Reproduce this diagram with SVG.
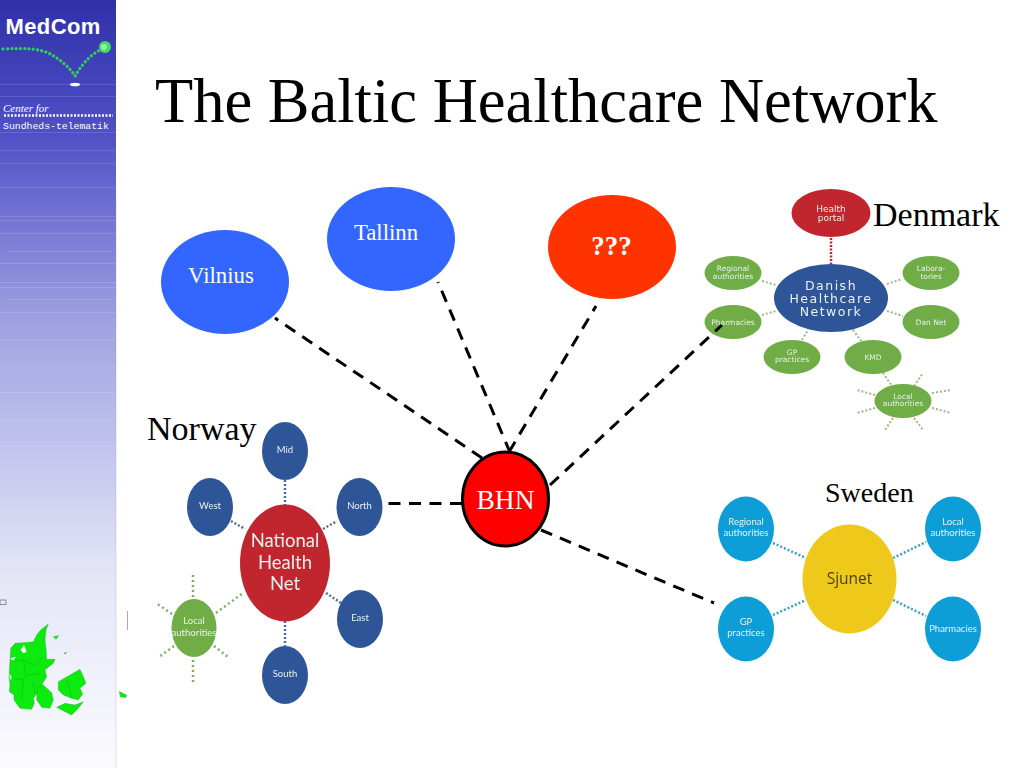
<svg xmlns="http://www.w3.org/2000/svg" width="1024" height="768" viewBox="0 0 1024 768">
<defs>
<linearGradient id="side" x1="0" y1="0" x2="0" y2="1">
<stop offset="0" stop-color="#3030a8"/><stop offset="0.17" stop-color="#4f4fc6"/><stop offset="0.43" stop-color="#a2a4e2"/><stop offset="0.75" stop-color="#e4e6f7"/><stop offset="1" stop-color="#fbfbfe"/>
</linearGradient>
<filter id="soft" x="-5%" y="-5%" width="110%" height="110%"><feGaussianBlur stdDeviation="0.35"/></filter>
</defs>
<style>
.serif{font-family:"Liberation Serif","Times New Roman",serif}
.lab{font-family:Lato,"Open Sans",sans-serif;fill:#e8f0f0;text-anchor:middle;font-size:9.500px}
.dl{font-family:"DejaVu Sans",sans-serif;fill:#e8f0e8;text-anchor:middle;font-size:7.500px}
.big{font-family:"Liberation Serif",serif;fill:#fff;font-size:22.800px;text-anchor:middle}
.dash{fill:none;stroke:#000;stroke-width:3;stroke-dasharray:12 8.500}
.dk{stroke:#9cb88a;stroke-width:2;stroke-dasharray:2 2;fill:none}
.no{stroke:#4d6c9c;stroke-width:2.500;stroke-dasharray:2 2;fill:none}
.gr{stroke:#82ac66;stroke-width:2.500;stroke-dasharray:2 3;fill:none}
.se{stroke:#3d9fc4;stroke-width:2.500;stroke-dasharray:2 2;fill:none}
.green{fill:#70ad47}.blue{fill:#2f5597}.cyan{fill:#0f9ed8}
.stripe{stroke:#fff;stroke-width:1;opacity:.13}
</style>
<rect width="1024" height="768" fill="#fff"/>
<g id="sidebar">
<rect width="116" height="768" fill="url(#side)"/>
<path class="stripe" d="M0 84.500H116M0 96.500H116M0 132.500H116M0 150.500H116M0 163.500H116M0 187.500H116M0 216.500H116M0 220.500H116M0 233.500H116M8 251.500H112M0 263.500H116M0 282.500H116M0 287.500H116M8 299.500H112M0 312.500H116M0 340.500H116M0 366.500H116M0 392.500H116M0 420.500H116M0 446.500H116"/>
<line x1="116" y1="200" x2="116" y2="768" stroke="#8888aa" stroke-width="1" opacity=".25"/>
<text x="5.500" y="33.500" font-family="Liberation Sans,sans-serif" font-weight="700" font-size="22" letter-spacing="0.400" fill="#fff">MedCom</text>
<path d="M3 49 C25 48 40 48 52 55 C62 61 70 68 75 76 C80 68 88 56 100 50" fill="none" stroke="#2fd060" stroke-width="3.200" stroke-linecap="round" stroke-dasharray="0.100 4.200"/>
<circle cx="105" cy="47" r="6" fill="#3fe060"/><circle cx="104" cy="47" r="3" fill="#9cf0a8"/>
<ellipse cx="75" cy="84.500" rx="5" ry="1.800" fill="#fff"/>
<text x="3" y="112" class="serif" font-style="italic" font-size="11" fill="#fff">Center for</text>
<line x1="4" y1="115.500" x2="113" y2="115.500" stroke="#fff" stroke-width="2.500" stroke-dasharray="2 1.500"/>
<text x="3" y="129" font-family="Liberation Mono,monospace" font-size="9.800" fill="#fff">Sundheds-telematik</text>
<rect x="0" y="600" width="6" height="4.500" fill="none" stroke="#777" stroke-width="0.800"/>
<line x1="127.500" y1="611" x2="127.500" y2="630" stroke="#aaa" stroke-width="1"/>
<path d="M119 691 L127 695 L126 698 L120 697Z" fill="#22dd22"/>
<g transform="translate(0 620) scale(0.3333)" fill="#0dea0d" stroke="#12a030" stroke-width="1">
<path d="M145 12 L122 30 L110 45 L100 65 L70 68 L45 70 L32 85 L30 120 L27 170 L30 195 L28 215 L42 225 L42 240 L60 265 L95 268 L103 250 L100 235 L108 225 L125 205 L128 190 L140 170 L135 150 L160 130 L165 118 L140 118 L138 85 L135 60 L138 30Z"/>
<path d="M112 205 L130 195 L155 218 L160 240 L150 265 L125 262 L110 240Z"/>
<path d="M175 185 L210 165 L240 148 L250 170 L258 190 L240 205 L248 222 L235 240 L215 235 L190 225 L175 210Z"/>
<path d="M170 262 L195 250 L225 255 L250 245 L235 265 L215 285 L195 275Z"/>
<path d="M160 50 L176 47 L168 58Z"/>
<path d="M192 100 L200 97 L196 102Z"/>
<path d="M62 90 L72 75 L80 95 L70 100Z" fill="#fff" stroke="none"/>
<path d="M30 115 L48 110 L40 122Z" fill="#fff" stroke="none"/>
<path d="M28 160 L36 175 L30 180Z" fill="#fff" stroke="none"/>
<path d="M35 125L70 120L105 135L130 110M70 120L78 165L120 160M30 175L70 180L78 165M70 180L65 240M100 185L105 225M200 180L215 235" fill="none" stroke-width="1.200"/>
</g>
</g>
<text id="title" x="155" y="122" class="serif" font-size="62.500" fill="#000">The Baltic Healthcare Network</text>
<g id="norway" filter="url(#soft)">
<path class="no" d="M285 480V505M285 621V646M231 521L245 529M323 529L337 521M326 593L341 603"/>
<path class="gr" d="M216 613L243 593M193 597V573M172 614L156 603M174 646L159 657M214 646L228 657M193 660V684"/>
<ellipse cx="285" cy="451" rx="23" ry="29" class="blue"/><text x="285" y="453" class="lab">Mid</text>
<ellipse cx="210" cy="507" rx="23" ry="29" class="blue"/><text x="210" y="509" class="lab">West</text>
<ellipse cx="359.500" cy="507" rx="23" ry="29" class="blue"/><text x="359.500" y="509" class="lab">North</text>
<ellipse cx="360" cy="619" rx="23" ry="29" class="blue"/><text x="360" y="621" class="lab">East</text>
<ellipse cx="285" cy="675" rx="23" ry="29" class="blue"/><text x="285" y="677" class="lab">South</text>
<ellipse cx="194" cy="628" rx="22.500" ry="29" class="green"/>
<text class="lab" y="624"><tspan x="194">Local</tspan><tspan x="194" dy="11.500">authorities</tspan></text>
<ellipse cx="285" cy="563" rx="45" ry="58.500" fill="#c1272d"/>
<text class="lab" style="font-size:18.500px" y="547"><tspan x="285">National</tspan><tspan x="285" dy="21.500">Health</tspan><tspan x="285" dy="21.500">Net</tspan></text>
</g>
<text x="147" y="440" class="serif" font-size="34">Norway</text>
<g id="denmark" filter="url(#soft)">
<path d="M831 238V264" stroke="#c1272d" stroke-width="2.500" stroke-dasharray="2 1.500" fill="none"/>
<path class="dk" d="M762 281L776 285M762 315L776 311M802 340L808 330M853 330L862 342M887 284L902 279M887 311L903 316M883 373L892 386M914 386L923 373M932 393L951 390M932 408L951 413M914 418L923 430M893 418L885 430M875 408L857 413M875 395L857 390"/>
<ellipse cx="831" cy="213" rx="39.500" ry="24" fill="#c1272d"/>
<text class="dl" style="font-size:9px" y="211.500"><tspan x="831">Health</tspan><tspan x="831" dy="9.500">portal</tspan></text>
<ellipse cx="733" cy="273" rx="28.500" ry="17" class="green"/><text class="dl" y="271"><tspan x="733">Regional</tspan><tspan x="733" dy="7.600">authorities</tspan></text>
<ellipse cx="733" cy="322" rx="28.500" ry="17" class="green"/><text class="dl" x="733" y="324.500">Pharmacies</text>
<ellipse cx="792" cy="357" rx="28.500" ry="17" class="green"/><text class="dl" y="354.500"><tspan x="792">GP</tspan><tspan x="792" dy="7">practices</tspan></text>
<ellipse cx="873" cy="357" rx="28.500" ry="17" class="green"/><text class="dl" x="873" y="359.500">KMD</text>
<ellipse cx="903" cy="401" rx="28.500" ry="17" class="green"/><text class="dl" y="399"><tspan x="903">Local</tspan><tspan x="903" dy="7">authorities</tspan></text>
<ellipse cx="931" cy="273" rx="28.500" ry="17" class="green"/><text class="dl" y="271"><tspan x="931">Labora-</tspan><tspan x="931" dy="7.600">tories</tspan></text>
<ellipse cx="931" cy="322" rx="28.500" ry="17" class="green"/><text class="dl" x="931" y="324.500">Dan Net</text>
<ellipse cx="831" cy="298" rx="57" ry="34" class="blue"/>
<text font-family="DejaVu Sans,sans-serif" fill="#e8f0f4" text-anchor="middle" font-size="12.500" letter-spacing="1.500" y="289.500"><tspan x="831">Danish</tspan><tspan x="831" dy="13">Healthcare</tspan><tspan x="831" dy="13.500">Network</tspan></text>
</g>
<text x="873" y="226" class="serif" font-size="34">Denmark</text>
<g id="sweden" filter="url(#soft)">
<path class="se" d="M773 543L806 558M773 615L806 600M893 558L926 542M893 600L926 616"/>
<ellipse cx="746" cy="529" rx="28" ry="32.500" class="cyan"/><text class="lab" y="525"><tspan x="746">Regional</tspan><tspan x="746" dy="11">authorities</tspan></text>
<ellipse cx="953" cy="529" rx="28" ry="32.500" class="cyan"/><text class="lab" y="525"><tspan x="953">Local</tspan><tspan x="953" dy="10.500">authorities</tspan></text>
<ellipse cx="746" cy="629" rx="28" ry="32.500" class="cyan"/><text class="lab" y="625"><tspan x="746">GP</tspan><tspan x="746" dy="11">practices</tspan></text>
<ellipse cx="953" cy="629" rx="28" ry="32.500" class="cyan"/><text class="lab" x="953" y="632">Pharmacies</text>
<ellipse cx="849.500" cy="579" rx="47" ry="54.500" fill="#efc81f"/><text x="849.500" y="584" font-family="Open Sans,Noto Sans,sans-serif" font-size="15.500" fill="#4a3f10" text-anchor="middle">Sjunet</text>
</g>
<text x="825" y="502" class="serif" font-size="28">Sweden</text>
<g id="connectors">
<path class="dash" d="M482 458L275 318"/>
<path class="dash" style="stroke-dashoffset:3.100" d="M509 450L438 282"/>
<path class="dash" d="M509 452L596 306"/>
<path class="dash" d="M550 485L722 325"/>
<path class="dash" d="M462 503.500H386"/>
<path class="dash" d="M541 530L714 603"/>
</g>
<g id="vilnius"><ellipse cx="225" cy="282" rx="64" ry="52" fill="#3366ff"/><text x="221" y="283" class="big">Vilnius</text></g>
<g id="tallinn"><ellipse cx="391" cy="239" rx="64" ry="52" fill="#3366ff"/><text x="386" y="240" class="big">Tallinn</text></g>
<g id="unknown"><ellipse cx="612" cy="247" rx="64" ry="52" fill="#ff3300"/><text x="611.500" y="255" class="big" font-weight="700" style="font-size:27px">???</text></g>
<g id="bhn"><ellipse cx="505.500" cy="499" rx="43" ry="47" fill="#ff0000" stroke="#000" stroke-width="3"/><text x="505.500" y="509" class="big" style="font-size:27.500px">BHN</text></g>
</svg>
